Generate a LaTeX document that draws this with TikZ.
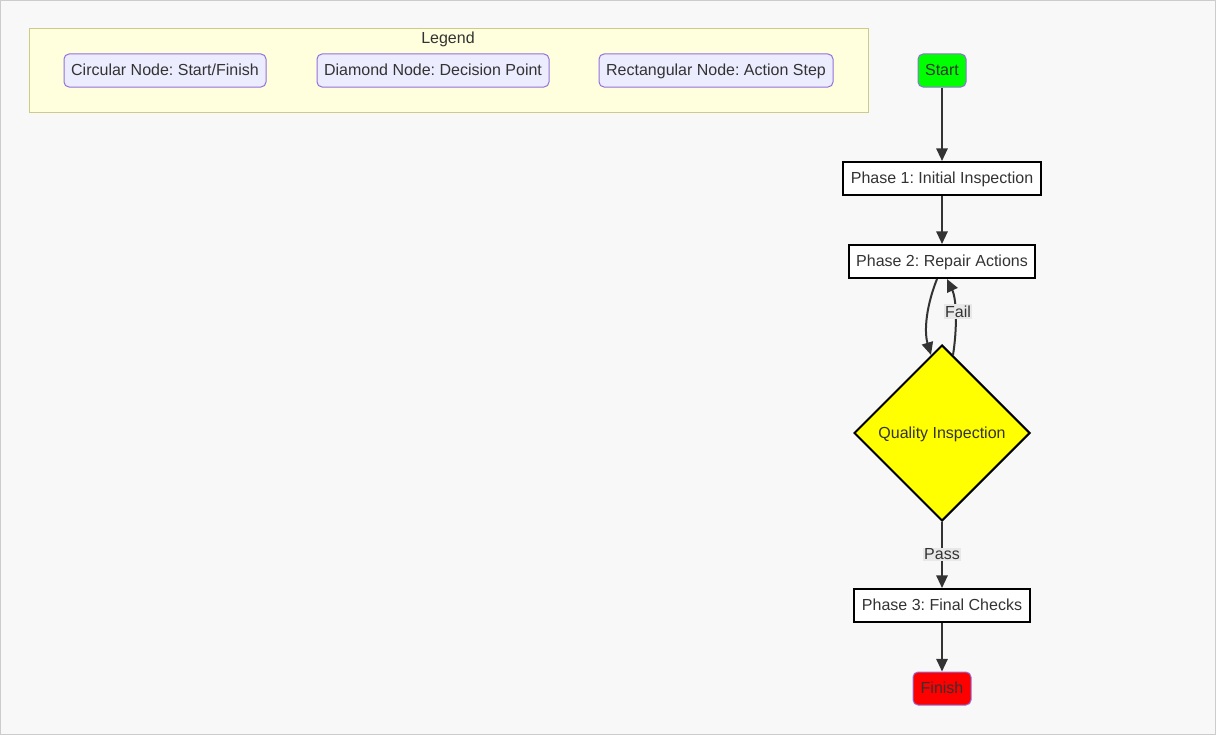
\documentclass[tikz,border=0pt]{standalone}
\usepackage{fontspec}
\setmainfont{Liberation Sans}
\usetikzlibrary{shapes.geometric,arrows.meta,calc}
\frenchspacing
\definecolor{bgcol}{HTML}{F8F8F8}
\definecolor{framecol}{HTML}{CCCCCC}
\definecolor{ink}{HTML}{333333}
\definecolor{legendfill}{HTML}{FFFFDE}
\definecolor{legenddraw}{HTML}{CCCC88}
\definecolor{itemfill}{HTML}{ECECFF}
\definecolor{itemdraw}{HTML}{9370DB}
\definecolor{labelbg}{HTML}{E8E8E8}
\definecolor{startfill}{HTML}{00FF00}
\definecolor{finishfill}{HTML}{FF0000}
\definecolor{decisionfill}{HTML}{FFFF00}
\tikzset{
  base/.style={font=\fontsize{12pt}{14pt}\selectfont, text=ink, inner sep=0pt, minimum height=24.75pt, text depth=1pt},
  legenditem/.style={base, draw=itemdraw, fill=itemfill, line width=0.75pt, rounded corners=3.75pt},
  terminal/.style={base, draw=itemdraw, line width=0.75pt, rounded corners=3.75pt},
  action/.style={base, draw=black, fill=white, line width=1.5pt, text=ink},
  decision/.style={base, shape=diamond, draw=black, fill=decisionfill, line width=1.5pt, minimum width=132pt, minimum height=132pt, shape aspect=1},
  flow/.style={draw=ink, line width=1.5pt, -{Triangle[length=9.5pt,width=8.5pt]}},
  edgelabel/.style={font=\fontsize{12pt}{14pt}\selectfont, text=ink, fill=labelbg, inner sep=1pt},
}
\begin{document}
\begin{tikzpicture}[x=0.75pt,y=-0.75pt]
  % canvas
  \fill[bgcol] (0,0) rectangle (1216,735);
  \draw[framecol, line width=0.75pt] (0.5,0.5) rectangle (1215.5,734.5);
  \useasboundingbox (0,0) rectangle (1216,735);

  % legend
  \draw[legenddraw, fill=legendfill, line width=0.75pt] (29,29) rectangle (868,112);
  \node[font=\fontsize{12pt}{14pt}\selectfont, text=ink] (legendtitle) at (448,39) {Legend};
  \node[legenditem, minimum width=151.5pt] (lcirc) at (165,70.5) {Circular Node: Start/Finish};
  \node[legenditem, minimum width=174pt] (ldiam) at (433,70.5) {Diamond Node: Decision Point};
  \node[legenditem, minimum width=175.5pt] (lrect) at (716,70.5) {Rectangular Node: Action Step};

  % flow
  \node[terminal, fill=startfill, minimum width=36pt] (start) at (942,70.5) {Start};
  \node[action, minimum width=148.5pt] (p1) at (942,178.5) {Phase 1: Initial Inspection};
  \node[action, minimum width=139.5pt] (p2) at (942,261.5) {Phase 2: Repair Actions};
  \node[decision] (qi) at (942,433) {Quality Inspection};
  \node[action, minimum width=132pt] (p3) at (942,605.5) {Phase 3: Final Checks};
  \node[terminal, fill=finishfill, minimum width=43.5pt] (finish) at (942,688.5) {Finish};

  \draw[flow] (start) -- (p1);
  \draw[flow] (p1) -- (p2);
  \draw[flow] ($(p2.south)+(-5,0)$) .. controls (924,312) and (925,335) .. ($(qi.north)+(-11,11)$);
  \draw[flow] ($(qi.north)+(11,11)$) .. controls (957,330) and (957,300) .. ($(p2.south)+(5,0)$);
  \node[edgelabel] (faillbl) at (958,311.5) {Fail};
  \draw[flow] (qi.south) -- (p3);
  \node[edgelabel] (passlbl) at (942,554.5) {Pass};
  \draw[flow] (p3) -- (finish);
\end{tikzpicture}
\end{document}
